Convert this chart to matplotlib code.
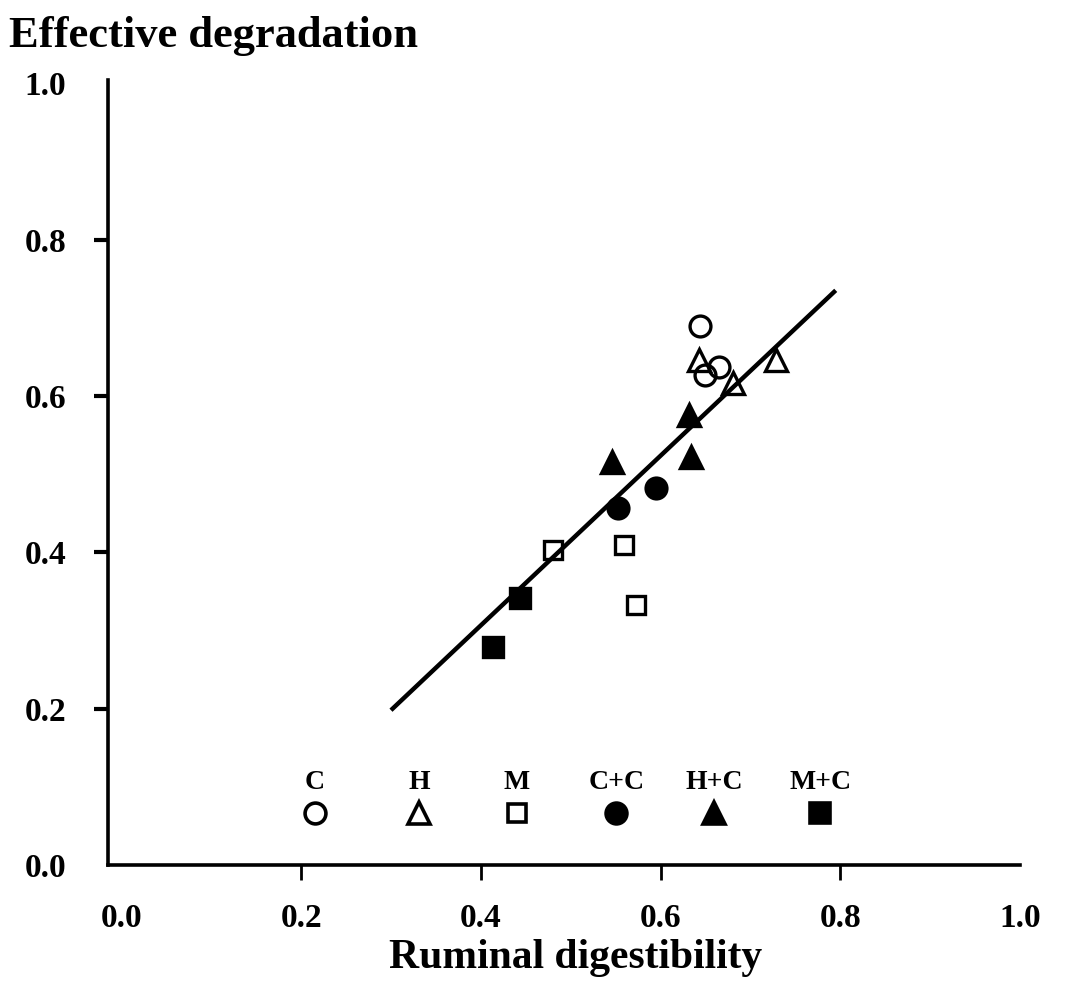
import numpy as np
import matplotlib
matplotlib.use("Agg")
import matplotlib.pyplot as plt

plt.rcParams['font.family'] = ['Liberation Serif', 'DejaVu Serif']
plt.rcParams['font.weight'] = 'bold'

# readings
c_x = [0.644, 0.650, 0.665]
c_y = [0.690, 0.627, 0.637]
h_x = [0.643, 0.681, 0.729]
h_y = [0.646, 0.616, 0.646]
m_x = [0.480, 0.559, 0.573]
m_y = [0.403, 0.409, 0.332]
cc_x = [0.553, 0.595]
cc_y = [0.456, 0.482]
hc_x = [0.546, 0.632, 0.634]
hc_y = [0.516, 0.575, 0.522]
mc_x = [0.413, 0.444]
mc_y = [0.279, 0.341]

# fitted line (end points)
fit_x = [0.300, 0.795]
fit_y = [0.198, 0.735]

group_names = ['C', 'H', 'M', 'C+C', 'H+C', 'M+C']
tick_vals = [0.0, 0.2, 0.4, 0.6, 0.8, 1.0]
tick_labels = ['0.0', '0.2', '0.4', '0.6', '0.8', '1.0']

fig = plt.figure(figsize=(10.71, 9.93), dpi=100)
ax = fig.add_axes([0.1008, 0.1289, 0.8515, 0.7905])

styles = [
    dict(marker='o', mfc='none', ms=15),
    dict(marker='^', mfc='none', ms=16),
    dict(marker='s', mfc='none', ms=13),
    dict(marker='o', mfc='black', ms=15),
    dict(marker='^', mfc='black', ms=16),
    dict(marker='s', mfc='black', ms=14),
]
series = [(c_x, c_y), (h_x, h_y), (m_x, m_y), (cc_x, cc_y), (hc_x, hc_y), (mc_x, mc_y)]

for (xs, ys), st in zip(series, styles):
    ax.plot(xs, ys, ls='none', mec='black', mew=2.4, color='black', **st)

ax.plot(fit_x, fit_y, color='black', lw=3.2, solid_capstyle='butt')

# key drawn inside the plot, as in the original
key_x = [0.215, 0.331, 0.440, 0.551, 0.660, 0.778]
for name, kx, st in zip(group_names, key_x, styles):
    ax.text(kx, 0.106, name, ha='center', va='center', fontsize=20, fontweight='bold')
    ax.plot([kx], [0.066], ls='none', mec='black', mew=2.6, color='black', **st)

ax.set_xlim(-0.015, 0.985)
ax.set_ylim(0, 1.004)

for s in ['top', 'right']:
    ax.spines[s].set_visible(False)
for s in ['left', 'bottom']:
    ax.spines[s].set_linewidth(2.6)

ax.set_xticks(tick_vals)
ax.set_xticklabels(tick_labels)
ax.set_yticks(tick_vals)
ax.set_yticklabels(tick_labels)
ax.xaxis.remove_overlapping_locs = False
ax.yaxis.remove_overlapping_locs = False
ax.set_xticks([0.2, 0.4, 0.6, 0.8], minor=True)
ax.set_yticks([0.2, 0.4, 0.6, 0.8], minor=True)
ax.tick_params(which='major', length=0, labelsize=24)
ax.tick_params(axis='x', which='major', pad=27)
ax.tick_params(axis='y', which='major', pad=30)
ax.tick_params(axis='y', which='minor', direction='out', length=10, width=3)
ax.tick_params(axis='x', which='minor', direction='out', length=11, width=2)

fig.text(0.008, 0.953, 'Effective degradation', fontsize=32, fontweight='bold',
         ha='left', va='baseline')
fig.text(0.537, 0.025, 'Ruminal digestibility', fontsize=30, fontweight='bold',
         ha='center', va='baseline')

fig.savefig('out.png', dpi=100)
